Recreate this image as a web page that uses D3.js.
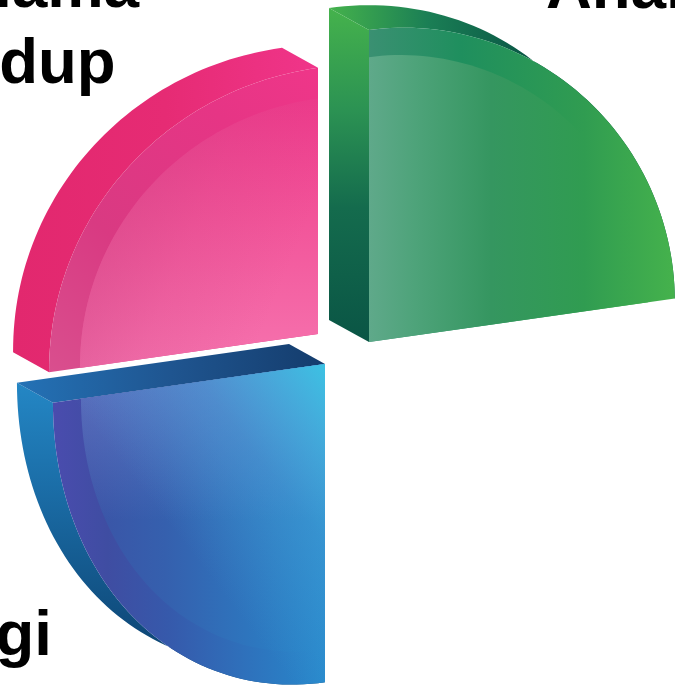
<!DOCTYPE html>
<html>
<head>
<meta charset="utf-8">
<script src="https://cdnjs.cloudflare.com/ajax/libs/d3/7.8.5/d3.min.js"></script>
<style>
  html, body { margin: 0; padding: 0; background: #fff; overflow: hidden; }
  text { font-family: "Liberation Sans", Arial, sans-serif; font-weight: 700; font-size: 63.5px; fill: #000; }
</style>
</head>
<body>
<svg id="chart" width="675" height="685"></svg>
<script>
// Values, clockwise from 12 o'clock
const categories = ["green", "empty", "blue", "pink"];
const shares = [25, 25, 25, 25];
const heightValues = [100, 0, 102, 85.3];
const widthValues = [98, 0, 87.2, 86.2];

// Labels as they show in the cropped picture
const labelText = ["Anal", "lama", "dup", "gi"];
const labelX = [546, 139, 115.5, 52];
const labelY = [8, 7, 83, 655];
const labelAnchor = ["start", "end", "end", "end"];

// Where each exploded slice sits
const apexX = { green: 369, blue: 325, pink: 318 };
const apexY = { green: 342, blue: 364, pink: 334 };
const depthX = { green: -40, blue: -36, pink: -36 };
const depthY = { green: -22, blue: -20, pink: -20 };
const innerRatio = { green: 0.913, blue: 0.897, pink: 0.885 };
const arcPower = { green: 1.05, blue: 1, pink: 0.96 };
const backPower = { green: 1.015, blue: 1, pink: 0.96 };
const visibleWall = { green: "start", blue: "end" };

const SHEAR = 0.1425;

const svg = d3.select("#chart");
const defs = svg.append("defs");

const radius = d3.scaleLinear().domain([0, 100]).range([0, 312]);
const pie = d3.pie().sort(null).value(d => d);
const line = d3.line();

function gradient(id, x1, y1, x2, y2, stops) {
    const g = defs.append("linearGradient")
        .attr("id", id)
        .attr("gradientUnits", "userSpaceOnUse")
        .attr("x1", x1).attr("y1", y1)
        .attr("x2", x2).attr("y2", y2);
    stops.forEach(s => {
        g.append("stop")
            .attr("offset", s[0])
            .attr("stop-color", s[1])
            .attr("stop-opacity", s[2] === undefined ? 1 : s[2]);
    });
}

// green
gradient("green-wall", 0, 8, 0, 342, [[0, "#45b24c"], [0.3, "#2c9353"], [0.6, "#146b4d"], [1, "#0a5545"]]);
gradient("green-top", 329, 0, 525, 0, [[0, "#45b24c"], [0.5, "#1b7f55"], [1, "#0a5846"]]);
gradient("green-band", 369, 0, 675, 0, [[0, "#3a9072"], [0.3, "#1f8f5e"], [0.7, "#309c51"], [1, "#45b24c"]]);
gradient("green-inner", 369, 0, 675, 0, [[0, "#5fa98a"], [0.15, "#4ea37a"], [0.4, "#359660"], [0.7, "#309c51"], [1, "#45b24c"]]);
// pink
gradient("pink-side", 13, 0, 318, 0, [[0, "#e2286e"], [0.5, "#e62b74"], [1, "#f0358a"]]);
gradient("pink-band", 49, 372, 318, 68, [[0, "#d94f8e"], [0.35, "#d93a82"], [0.75, "#e63585"], [1, "#ef3689"]]);
gradient("pink-inner", 318, 100, 318, 372, [[0, "#ee3a8b"], [0.45, "#f2559a"], [1, "#f674af"]]);
gradient("pink-shade", 80, 100, 318, 200, [[0, "#c8407f", 0.65], [0.6, "#c8407f", 0.18], [1, "#c8407f", 0]]);
// blue
gradient("blue-side", 0, 382, 0, 640, [[0, "#2487c5"], [0.4, "#1b6ea8"], [1, "#0e4878"]]);
gradient("blue-wall", 17, 0, 325, 0, [[0, "#2472b6"], [0.5, "#1f5590"], [1, "#143c6c"]]);
gradient("blue-band", 53, 0, 325, 0, [[0, "#4a4cae"], [0.2, "#3f4da2"], [0.42, "#3659ab"], [1, "#2789cc"]]);
gradient("blue-inner", 81, 0, 325, 0, [[0, "#3c52a5"], [0.35, "#3560ae"], [1, "#2789cc"]]);
gradient("blue-top", 0, 380, 0, 520, [[0, "#8f9fe6", 0.38], [1, "#8f9fe6", 0]]);
gradient("blue-shine", 325, 364, 150, 500, [[0, "#3cc2e3", 1], [0.5, "#4ea4d8", 0.38], [1, "#4ea4d8", 0]]);

const arcs = pie(shares);

// Skewed projection of a pie point, angle measured clockwise from the top
function project(name, angle, r, rw, p, dx = 0, dy = 0) {
    const s = Math.sin(angle);
    const c = Math.cos(angle);
    const sp = Math.sign(s) * Math.pow(Math.abs(s), p);
    const cp = Math.sign(c) * Math.pow(Math.abs(c), p);
    return [
        apexX[name] + dx + rw * sp,
        apexY[name] + dy - r * cp - SHEAR * rw * sp
    ];
}

function arcPoints(name, a, b, r, rw, p, dx = 0, dy = 0) {
    return d3.range(61).map(i => project(name, a + (b - a) * i / 60, r, rw, p, dx, dy));
}

function drawSlice(i) {
    const name = categories[i];
    const a = arcs[i].startAngle;
    const b = arcs[i].endAngle;
    const r = radius(heightValues[i]);
    const rw = radius(widthValues[i]);
    const dx = depthX[name];
    const dy = depthY[name];
    const g = svg.append("g").attr("class", "slice-" + name);

    const front = arcPoints(name, a, b, r, rw, arcPower[name]);
    const back = arcPoints(name, a, b, r, rw, backPower[name], dx, dy);
    const apex = [apexX[name], apexY[name]];
    const apexBack = [apex[0] + dx, apex[1] + dy];

    // Curved outer wall
    g.append("path")
        .attr("d", line(back.concat(front.slice().reverse())) + "Z")
        .attr("fill", `url(#${name === "green" ? "green-top" : name + "-side"})`);

    // Flat cut wall, only where it faces the viewer
    if (visibleWall[name]) {
        const edge = visibleWall[name] === "start" ? 0 : 60;
        g.append("path")
            .attr("d", line([apexBack, back[edge], front[edge], apex]) + "Z")
            .attr("fill", `url(#${name}-wall)`);
    }

    // Front face with its rim
    const face = line([apex].concat(front)) + "Z";
    g.append("path")
        .attr("d", face)
        .attr("fill", `url(#${name}-band)`);

    const ratio = innerRatio[name];
    const inner = line([apex].concat(arcPoints(name, a, b, r * ratio, rw * ratio, arcPower[name]))) + "Z";
    g.append("path")
        .attr("d", inner)
        .attr("fill", `url(#${name}-inner)`);
    if (name === "pink") {
        g.append("path").attr("d", inner).attr("fill", "url(#pink-shade)");
    }
    if (name === "blue") {
        g.append("path").attr("d", inner).attr("fill", "url(#blue-top)");
        // covers the rim too, so the rim melts away towards the right
        g.append("path").attr("d", face).attr("fill", "url(#blue-shine)");
    }
}

categories.forEach((name, i) => {
    if (heightValues[i] > 0) drawSlice(i);
});

svg.selectAll("text.label")
    .data(labelText)
    .join("text")
    .attr("class", "label")
    .attr("x", (d, i) => labelX[i])
    .attr("y", (d, i) => labelY[i])
    .attr("text-anchor", (d, i) => labelAnchor[i])
    .text(d => d);
</script>
</body>
</html>
